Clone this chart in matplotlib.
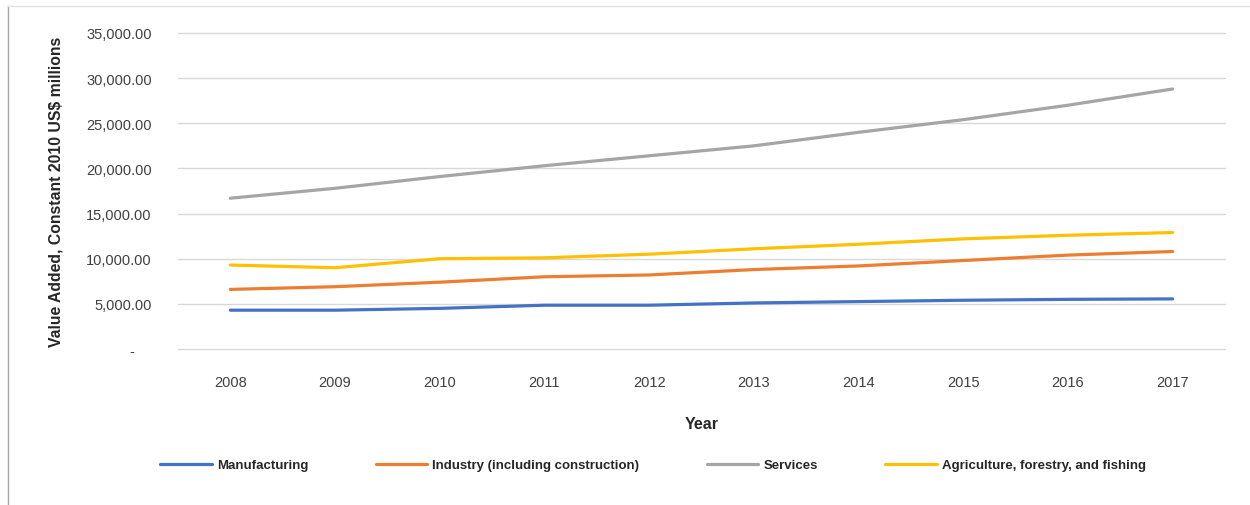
import numpy as np
import matplotlib
matplotlib.use("Agg")
import matplotlib.pyplot as plt
from matplotlib.ticker import FuncFormatter
from matplotlib.lines import Line2D

years = ['2008', '2009', '2010', '2011', '2012', '2013', '2014', '2015', '2016', '2017']
manufacturing = [4300, 4300, 4500, 4850, 4850, 5100, 5250, 5400, 5500, 5550]
industry = [6600, 6900, 7400, 8000, 8200, 8800, 9200, 9800, 10400, 10800]
services = [16700, 17800, 19100, 20300, 21400, 22500, 24000, 25400, 27000, 28800]
agriculture = [9300, 9000, 10000, 10100, 10500, 11100, 11600, 12200, 12600, 12900]

series_names = ['Manufacturing', 'Industry (including construction)', 'Services',
                'Agriculture, forestry, and fishing']
series_colors = ['#4472C4', '#ED7D31', '#A5A5A5', '#FFC000']

plt.rcParams['font.family'] = ['Liberation Sans', 'DejaVu Sans']

fig = plt.figure(figsize=(12.5, 5.06), dpi=100)
ax = fig.add_axes([178/1250, 1 - 350/506, (1225-178)/1250, (350-34)/506])

x = np.arange(len(years))
for vals, name, col in zip([manufacturing, industry, services, agriculture], series_names, series_colors):
    ax.plot(x, vals, color=col, lw=2.3, label=name, solid_capstyle='round')

ax.set_xlim(-0.5, len(years) - 0.5)
ax.set_ylim(0, 35000)
ax.set_yticks(np.arange(0, 35001, 5000))
ax.set_xticks(x)
ax.set_xticklabels(years)

def fmt(v, pos):
    if v == 0:
        return '-    '
    return f'{v:,.2f}'
ax.yaxis.set_major_formatter(FuncFormatter(fmt))

ax.grid(axis='y', color='#d9d9d9', lw=1)
for gl in ax.get_ygridlines():
    gl.set_clip_on(False)
ax.set_axisbelow(True)
for s in ax.spines.values():
    s.set_visible(False)
ax.tick_params(axis='both', length=0, labelsize=10.5, colors='#404040')
ax.tick_params(axis='y', pad=19)
ax.tick_params(axis='x', pad=19)

ax.set_ylabel('Value Added, Constant 2010 US$ millions', fontsize=11.3, fontweight='bold',
              color='#262626', labelpad=16)
ax.set_xlabel('Year', fontsize=11.5, fontweight='bold', color='#262626', labelpad=19)

leg = fig.legend(loc='center', bbox_to_anchor=(0.5224, 1 - 466/506), ncol=4, frameon=False,
                 handlelength=3.9, handletextpad=0.4, columnspacing=5.1,
                 prop={'weight': 'bold', 'size': 9.5})
for t in leg.get_texts():
    t.set_color('#262626')

# chart border
fig.add_artist(Line2D([8/1250, 8/1250], [0, 1 - 7/506], transform=fig.transFigure, color='#a6a6a6', lw=1))
fig.add_artist(Line2D([8/1250, 1], [1 - 7/506, 1 - 7/506], transform=fig.transFigure, color='#e3e3e3', lw=1))

fig.savefig('out.png', dpi=100)
